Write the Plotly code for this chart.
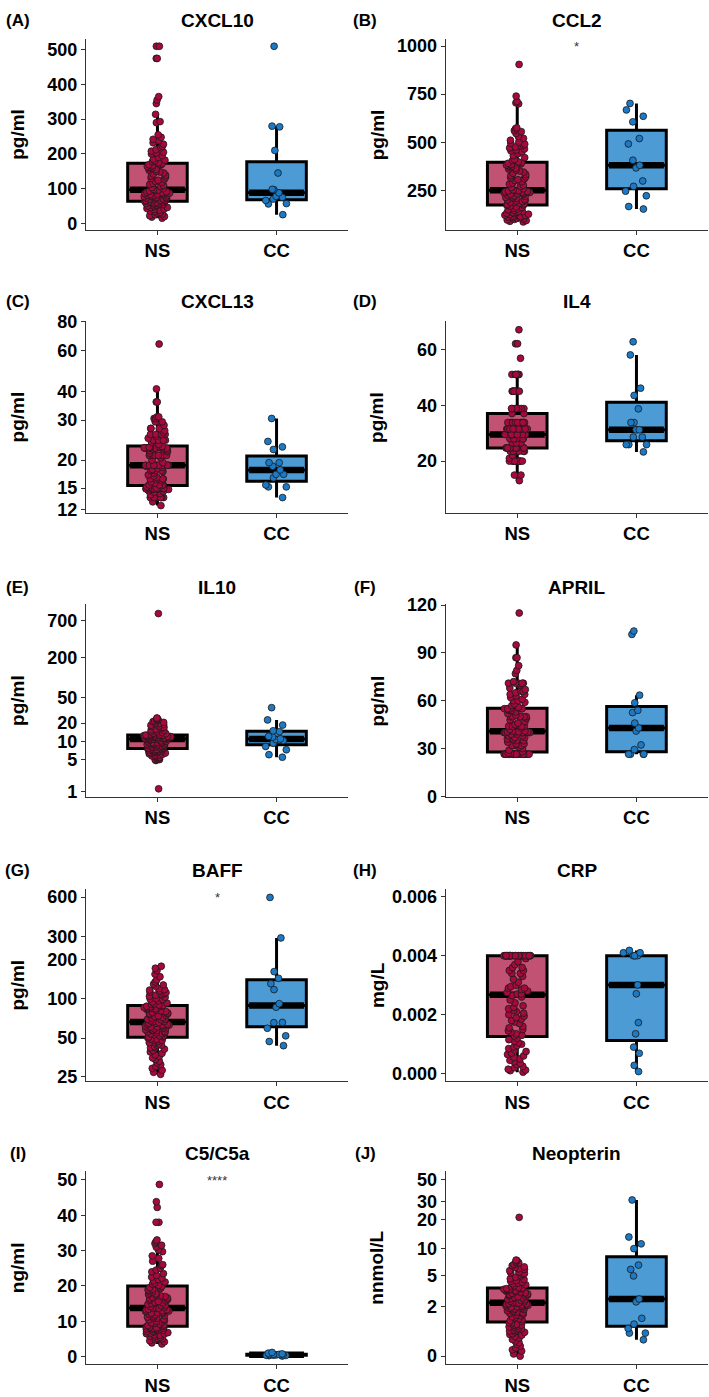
import numpy as np
import plotly.graph_objects as go

FONT = "Liberation Sans, Arial, sans-serif"
W, H = 709, 1397

groups = ["NS", "CC"]
markers = ["CXCL10", "CCL2", "CXCL13", "IL4", "IL10", "APRIL", "BAFF", "CRP", "C5/C5a", "Neopterin"]
letters = ["(A)", "(B)", "(C)", "(D)", "(E)", "(F)", "(G)", "(H)", "(I)", "(J)"]
units = ["pg/ml", "pg/ml", "pg/ml", "pg/ml", "pg/ml", "pg/ml", "pg/ml", "mg/L", "ng/ml", "nnmol/L"]
log_scale = [False, False, True, False, True, False, True, False, False, True]

# ---- values ----
cxcl10_ns = [15, 18, 20, 22, 25, 27, 30, 32, 34, 36, 38, 40, 41, 43, 45, 46, 48, 50, 51, 52,
             54, 55, 56, 57, 58, 59, 60, 61, 62, 63, 64, 65, 66, 67, 68, 69, 70, 71, 72, 73,
             74, 75, 76, 77, 78, 79, 80, 81, 82, 83, 84, 85, 86, 87, 88, 90, 91, 93, 94, 96,
             98, 100, 103, 106, 109, 112, 115, 118, 121, 124, 127, 130, 133, 136, 139, 142, 145, 148, 150, 153,
             155, 158, 160, 162, 164, 166, 168, 169, 170, 172, 175, 178, 180, 182, 185, 190, 195, 200, 203, 205,
             208, 212, 218, 222, 228, 232, 238, 242, 248, 255, 290, 293, 314, 345, 355, 365, 475, 475, 510, 510]
cxcl10_cc = [25, 56, 57, 66, 70, 75, 78, 88, 97, 98, 145, 210, 278, 280, 510]

ccl2_ns = [85, 88, 92, 95, 98, 100, 103, 106, 108, 110, 113, 115, 118, 120, 123, 125, 128, 130, 133, 135,
           138, 140, 145, 148, 152, 155, 160, 163, 167, 171, 173, 176, 179, 182, 185, 188, 191, 194, 197, 200,
           203, 206, 209, 212, 215, 218, 221, 224, 227, 230, 232, 234, 236, 238, 240, 242, 244, 246, 247, 248,
           252, 258, 264, 270, 276, 282, 288, 294, 300, 305, 310, 315, 320, 326, 332, 338, 344, 350, 355, 360,
           365, 370, 374, 378, 381, 384, 387, 390, 392, 394, 398, 405, 410, 420, 430, 440, 450, 455, 460, 465,
           470, 475, 480, 485, 490, 495, 500, 510, 520, 530, 545, 555, 560, 570, 575, 700, 705, 712, 740, 905]
ccl2_cc = [152, 165, 221, 245, 270, 298, 366, 380, 406, 491, 519, 606, 635, 668, 702]

cxcl13_ns = [12.5, 13.0, 13.6, 13.6, 13.6, 13.6, 13.6, 13.6, 13.6, 14.0,
             14.2, 14.4, 14.5, 14.6, 14.8, 14.8, 14.9, 14.9, 14.9, 14.9,
             14.9, 14.9, 14.9, 14.9, 14.9, 14.9, 15.0, 15.0, 15.1, 15.2,
             15.5, 15.5, 15.5, 15.5, 15.8, 16.0, 16.2, 16.5, 16.5, 16.5,
             16.5, 16.8, 17.0, 17.2, 17.5, 17.8, 18.0, 18.0, 18.0, 18.2,
             18.4, 18.6, 18.8, 19.0, 19.0, 19.0, 19.0, 19.0, 19.0, 19.0,
             19.0, 19.5, 20.0, 20.5, 21.0, 21.0, 21.0, 21.0, 21.0, 21.0,
             21.0, 21.5, 21.8, 22.0, 22.2, 22.4, 22.6, 22.6, 22.6, 22.6,
             22.6, 22.6, 22.6, 22.7, 22.7, 22.8, 22.8, 22.8, 22.9, 23.0,
             23.5, 24.0, 24.5, 24.5, 24.5, 24.5, 24.5, 25.0, 25.5, 26.0,
             26.0, 26.0, 26.0, 26.5, 27.0, 27.6, 27.6, 27.6, 28.5, 29.5,
             29.5, 29.5, 30.5, 30.5, 31.0, 31.0, 36.0, 36.0, 41.0, 64.0]
cxcl13_cc = [13.6, 15.2, 15.2, 15.5, 16.7, 17.3, 17.3, 18.1, 18.8, 19.5, 19.5, 22.3, 22.9, 24.2, 30.5]

il4_ns = [13, 15, 15, 20, 20, 20, 20, 20, 20, 20, 20, 20, 20, 21, 22,
          23.5, 23.5, 23.5, 23.5, 23.5, 23.5, 23.5, 23.5,
          24.7, 24.7, 24.7, 24.7, 24.7, 24.7, 24.7, 24.7, 24.7, 24.7,
          26.5, 26.5, 26.5, 26.5, 26.5, 28, 28, 28, 28, 28,
          29.5, 29.5, 29.5, 29.5, 29.5, 29.5, 29.5, 29.5,
          31.5, 31.5, 31.5, 31.5, 31.5, 31.5, 31.5, 31.5, 31.5, 31.5,
          33.8, 33.8, 33.8, 33.8, 33.8, 33.8, 33.8, 33.8, 33.8, 33.8, 37, 37,
          38.8, 38.8, 38.8, 38.8, 38.8, 38.8, 38.8,
          45, 45, 45, 45, 45, 45, 45, 51, 51, 51, 51, 51, 51, 56.8, 62, 62, 67]
il4_cc = [23.3, 25.9, 25.9, 25.9, 28.6, 28.6, 31.2, 31.2, 33.8, 33.8, 38.7, 43.5, 46.1, 58.0, 62.7]

il10_ns = [1.2, 4.8, 5.0, 5.0, 5.2, 5.3, 5.5, 5.5, 5.7, 5.8, 6.0, 6.0, 6.2, 6.3, 6.5, 6.5, 6.6, 6.7, 6.8, 6.9,
           7.0, 7.0, 7.1, 7.2, 7.3, 7.4, 7.5, 7.5, 7.6, 7.7, 7.8, 7.9, 8.0, 8.1, 8.2, 8.3, 8.4, 8.5, 8.6, 8.7,
           8.8, 8.9, 9.0, 9.1, 9.2, 9.3, 9.4, 9.5, 9.6, 9.7, 9.8, 9.9, 10.0, 10.2, 10.4, 10.6, 10.8, 10.9, 11.0, 11.2,
           11.2, 11.3, 11.3, 11.4, 11.5, 11.5, 11.6, 11.7, 11.8, 11.8, 11.9, 12.0, 12.0, 12.1, 12.2, 12.2, 12.3, 12.4, 12.4, 12.5,
           12.5, 12.6, 12.6, 12.7, 12.7, 12.8, 12.8, 12.9, 12.9, 12.9, 13.0, 13.2, 13.4, 13.6, 13.8, 14.0, 14.3, 14.6, 15.0, 15.3,
           15.6, 16.0, 16.4, 16.8, 17.2, 17.6, 18.0, 18.5, 19.0, 19.5, 20.0, 20.5, 21.0, 21.5, 22.0, 22.5, 23.0, 23.5, 24.0, 900]
il10_cc = [5.5, 6.1, 7.4, 8.4, 9.5, 10.5, 10.9, 11.2, 12.0, 12.3, 14.6, 15.1, 18.6, 22.4, 34.6]

april_ns = [26.5, 26.5, 26.5, 26.5, 26.5, 26.5, 26.5, 26.5, 26.5, 26.5, 26.5, 26.5, 26.5, 26.5, 26.5,
            26.5, 26.5, 26.5, 26.5, 26.5, 26.5, 26.5, 26.5, 26.5, 26.5, 26.5, 26.5, 26.5, 27, 27.2,
            28, 29, 30, 31, 32, 32, 32, 33, 33, 34, 35, 35, 36, 36, 36, 37, 37, 38, 38, 39,
            39, 40, 40, 40, 40, 40, 40.5, 40.5, 40.5, 40.6, 41, 41, 42, 43, 44, 44, 44, 44, 45, 46,
            47, 48, 49, 50, 50, 50, 50, 50, 51, 52, 53, 54, 54, 55, 55, 55, 55, 55, 55, 55,
            56, 57, 58, 59, 60, 60, 61, 62, 63, 64, 64, 65, 66, 66, 67, 68, 70, 71, 71, 71,
            71, 71, 72, 77, 79, 82, 87, 87, 95, 115]
april_cc = [26.5, 26.5, 26.5, 26.5, 29.4, 32.3, 41.0, 42.9, 46.0, 52.6, 54.0, 58.7, 63.5, 101.6, 103.7]

baff_ns = [26, 27, 28, 29, 30, 31, 32, 33, 34, 35, 36, 37, 38, 39, 40, 41, 42, 42, 43, 44,
           44, 45, 46, 46, 47, 48, 48, 49, 49, 50, 51, 51, 52, 52, 53, 54, 54, 55, 55, 56,
           56, 57, 57, 58, 58, 59, 59, 60, 60, 61, 61, 62, 62, 63, 63, 64, 64, 65, 65, 66,
           67, 67, 68, 69, 70, 70, 71, 72, 73, 74, 75, 76, 77, 77, 78, 79, 80, 81, 82, 83,
           84, 84, 85, 86, 86, 87, 88, 88, 89, 89, 90, 91, 92, 93, 95, 97, 99, 100, 101, 103,
           105, 107, 108, 110, 112, 113, 115, 117, 118, 120, 125, 128, 130, 135, 140, 148, 155, 165, 172, 178]
baff_cc = [43.6, 47, 52, 59.5, 65.7, 66, 86.4, 92, 118, 131, 144, 162, 293, 596]

crp_ns = [0.00005, 0.0001, 0.00012, 0.00015, 0.0002, 0.00025, 0.0003, 0.00035, 0.0004, 0.00045,
          0.0005, 0.00055, 0.0006, 0.00065, 0.0007, 0.00075, 0.0008, 0.00085, 0.0009, 0.00095,
          0.001, 0.00105, 0.0011, 0.00115, 0.0012, 0.00128, 0.0013, 0.00135, 0.0014, 0.00145,
          0.0015, 0.00155, 0.0016, 0.0017, 0.00175, 0.0018, 0.00185, 0.0019, 0.00195, 0.002,
          0.00205, 0.0021, 0.00215, 0.0022, 0.00225, 0.0023, 0.0024, 0.0025, 0.0026, 0.00265,
          0.0027, 0.0027, 0.00275, 0.0028, 0.00285, 0.0029, 0.0029, 0.00295, 0.003, 0.0031,
          0.0032, 0.0033, 0.0034, 0.0034, 0.0035, 0.0035, 0.0036, 0.0036, 0.0037, 0.0038,
          0.0039, 0.004, 0.004, 0.004, 0.004, 0.004, 0.004, 0.004, 0.004, 0.004,
          0.004, 0.004, 0.004, 0.004, 0.004, 0.004, 0.004, 0.004, 0.004, 0.004,
          0.004, 0.004, 0.004, 0.004, 0.004, 0.004, 0.004, 0.004, 0.004, 0.004]
crp_cc = [0.00007, 0.00028, 0.00069, 0.0009, 0.00135, 0.00173, 0.00271, 0.00301,
          0.004, 0.004, 0.004, 0.004, 0.0041, 0.0041, 0.00418]

c5_ns = [3.6, 3.9, 4.2, 4.5, 4.8, 5.0, 5.2, 5.4, 5.6, 5.8, 6.0, 6.2, 6.4, 6.5, 6.7, 6.8, 7.0, 7.1, 7.2, 7.4,
         7.5, 7.6, 7.7, 7.8, 7.9, 8.0, 8.1, 8.2, 8.3, 8.5, 8.6, 8.8, 9.0, 9.2, 9.4, 9.6, 9.8, 10.0, 10.2, 10.4,
         10.6, 10.8, 11.0, 11.2, 11.4, 11.6, 11.8, 12.0, 12.2, 12.3, 12.5, 12.6, 12.8, 12.9, 13.0, 13.2, 13.3, 13.4, 13.6, 13.7,
         13.8, 14.0, 14.2, 14.4, 14.6, 14.8, 15.0, 15.2, 15.4, 15.6, 15.8, 16.0, 16.2, 16.4, 16.6, 16.8, 17.0, 17.2, 17.4, 17.6,
         17.8, 18.0, 18.3, 18.6, 18.9, 19.1, 19.3, 19.5, 19.7, 19.9, 20.2, 20.5, 20.8, 21.1, 21.5, 21.8, 22.2, 22.5, 23.0, 23.5,
         24.0, 24.5, 25.0, 25.8, 26.0, 27.0, 27.8, 28.5, 29.7, 30.2, 31.0, 31.5, 32.0, 32.5, 33.0, 38.0, 38.0, 42.2, 43.8, 48.7]
c5_cc = [0.2, 0.3, 0.35, 0.4, 0.45, 0.5, 0.5, 0.55, 0.6, 0.6, 0.65, 0.7, 0.8, 1.0, 1.2]

neo_ns = [0.0, 0.05, 0.12, 0.15, 0.2, 0.25, 0.3, 0.35, 0.4, 0.45, 0.5, 0.55, 0.6, 0.62, 0.65, 0.7, 0.72, 0.75, 0.78, 0.8,
          0.83, 0.86, 0.9, 0.92, 0.95, 0.98, 1.0, 1.03, 1.06, 1.1, 1.15, 1.2, 1.25, 1.3, 1.35, 1.4, 1.45, 1.5, 1.55, 1.6,
          1.62, 1.65, 1.7, 1.75, 1.8, 1.83, 1.86, 1.9, 1.93, 1.96, 2.0, 2.03, 2.06, 2.1, 2.13, 2.16, 2.2, 2.22, 2.25, 2.27,
          2.3, 2.35, 2.4, 2.45, 2.5, 2.55, 2.6, 2.65, 2.7, 2.75, 2.8, 2.85, 2.9, 2.95, 3.0, 3.05, 3.1, 3.15, 3.2, 3.25,
          3.3, 3.35, 3.38, 3.4, 3.43, 3.46, 3.48, 3.5, 3.52, 3.55, 3.6, 3.7, 3.8, 3.9, 4.0, 4.1, 4.2, 4.3, 4.4, 4.5,
          4.6, 4.8, 5.0, 5.2, 5.3, 5.4, 5.5, 5.7, 5.9, 6.0, 6.2, 6.3, 6.5, 6.7, 6.9, 7.0, 7.2, 7.4, 7.5, 21.0]
neo_cc = [0.44, 0.67, 0.67, 0.85, 1.04, 1.32, 2.35, 2.57, 4.97, 5.9, 6.6, 9.96, 11.2, 13.2, 31.4]

ns_values = [cxcl10_ns, ccl2_ns, cxcl13_ns, il4_ns, il10_ns, april_ns, baff_ns, crp_ns, c5_ns, neo_ns]
cc_values = [cxcl10_cc, ccl2_cc, cxcl13_cc, il4_cc, il10_cc, april_cc, baff_cc, crp_cc, c5_cc, neo_cc]

tick_values = [
    [0, 100, 200, 300, 400, 500],
    [250, 500, 750, 1000],
    [12, 15, 20, 30, 40, 60, 80],
    [20, 40, 60],
    [1, 5, 10, 20, 50, 200, 700],
    [0, 30, 60, 90, 120],
    [25, 50, 100, 200, 300, 600],
    [0, 0.002, 0.004, 0.006],
    [0, 10, 20, 30, 40, 50],
    [0, 2, 5, 10, 20, 30, 50],
]
tick_labels = [
    ["0", "100", "200", "300", "400", "500"],
    ["250", "500", "750", "1000"],
    ["12", "15", "20", "30", "40", "60", "80"],
    ["20", "40", "60"],
    ["1", "5", "10", "20", "50", "200", "700"],
    ["0", "30", "60", "90", "120"],
    ["25", "50", "100", "200", "300", "600"],
    ["0.000", "0.002", "0.004", "0.006"],
    ["0", "10", "20", "30", "40", "50"],
    ["0", "2", "5", "10", "20", "30", "50"],
]

# significance marks: panel index -> (label, value)
signif = {1: ("*", 1000), 6: ("*", 600), 8: ("****", 49.7)}

# ---- layout (pixels) ----
col_px = [(86, 348), (445.7, 708)]
row_px = [(30, 224), (316, 511), (603, 799), (892, 1087), (1178, 1374)]
title_y = [12, 296.7, 586.7, 873, 1160]
label_x = [17.5, 365]
ytitle_x = [17.5, 377]
y_ranges = [
    (-19.0, 532.1), (43.0, 1039.5),
    (1.0989, 1.9114), (1.41, 70.24),
    (0.2179, 3.1002), (-0.43, 120.78),
    (1.3793, 2.8411), (-0.000258, 0.006268),
    (-2.15, 52.5), (-0.0792, 1.791),
]

box_fill = ["#C25273", "#4C9BD5"]
dot_fill = ["#A6093D", "#1C79C5"]


def tf(v, is_log):
    v = np.asarray(v, dtype=float)
    return np.log10(v + 1) if is_log else v


def box_stats(v):
    q1, med, q3 = np.percentile(v, [25, 50, 75])
    iqr = q3 - q1
    lo = v[v >= q1 - 1.5 * iqr].min()
    hi = v[v <= q3 + 1.5 * iqr].max()
    return q1, med, q3, lo, hi


def px_x(p):
    return p / W


def px_y(p):
    return 1 - p / H


fig = go.Figure()
annotations = []
axis_common = dict(showline=True, linecolor="#333333", linewidth=1.3, ticks="outside", ticklen=4,
                   tickwidth=1.3, tickcolor="#333333", showgrid=False, zeroline=False, fixedrange=True)

for i in range(10):
    r, c = divmod(i, 2)
    sfx = "" if i == 0 else str(i + 1)
    xa, ya = "x" + sfx, "y" + sfx
    is_log = log_scale[i]
    data = [tf(ns_values[i], is_log), tf(cc_values[i], is_log)]

    # box + whiskers
    for g in range(2):
        q1, med, q3, lo, hi = box_stats(data[g])
        fig.add_trace(go.Box(x=[g], q1=[q1], median=[med], q3=[q3], lowerfence=[lo], upperfence=[hi],
                             width=0.5, fillcolor=box_fill[g], line=dict(color="black", width=3),
                             whiskerwidth=0, boxpoints=False, orientation="v",
                             xaxis=xa, yaxis=ya, showlegend=False, hoverinfo="skip"))
    # thick median band
    for g in range(2):
        med = np.median(data[g])
        fig.add_trace(go.Box(x=[g], q1=[med], median=[med], q3=[med], lowerfence=[med], upperfence=[med],
                             width=0.46, fillcolor="black", line=dict(color="black", width=6.5),
                             whiskerwidth=0, boxpoints=False, orientation="v",
                             xaxis=xa, yaxis=ya, showlegend=False, hoverinfo="skip"))
    # jittered points
    for g in range(2):
        fig.add_trace(go.Box(y=data[g], x0=g, width=0.5, boxpoints="all", jitter=0.45, pointpos=0,
                             fillcolor="rgba(0,0,0,0)", line=dict(color="rgba(0,0,0,0)", width=0),
                             marker=dict(color=dot_fill[g], size=6.8, line=dict(color="#1a1a1a", width=0.8)),
                             xaxis=xa, yaxis=ya, showlegend=False, hoverinfo="skip"))

    x0, x1 = col_px[c]
    y0, y1 = row_px[r]
    fig.layout["xaxis" + sfx] = dict(
        domain=[px_x(x0), px_x(x1)], anchor=ya, range=[-0.6, 1.6], tickvals=[0, 1], ticktext=groups,
        tickfont=dict(family=FONT, size=18.5, color="black", weight="bold"), **axis_common)
    fig.layout["yaxis" + sfx] = dict(
        domain=[px_y(y1), px_y(y0)], anchor=xa, range=list(y_ranges[i]),
        tickvals=list(tf(tick_values[i], is_log)), ticktext=tick_labels[i],
        tickfont=dict(family=FONT, size=18, color="black", weight="bold"), **axis_common)

    annotations.append(dict(text=markers[i], x=px_x((x0 + x1) / 2), y=px_y(title_y[r]), xref="paper", yref="paper",
                            showarrow=False, xanchor="center", yanchor="middle",
                            font=dict(family=FONT, size=19, color="black", weight="bold")))
    annotations.append(dict(text=letters[i], x=px_x(label_x[c]), y=px_y(title_y[r]), xref="paper", yref="paper",
                            showarrow=False, xanchor="center", yanchor="middle",
                            font=dict(family=FONT, size=17, color="black", weight="bold")))
    annotations.append(dict(text=units[i], x=px_x(ytitle_x[c]), y=px_y((y0 + y1) / 2), xref="paper", yref="paper",
                            showarrow=False, xanchor="center", yanchor="middle", textangle=-90,
                            font=dict(family=FONT, size=19, color="black", weight="bold")))
    if i in signif:
        lab, val = signif[i]
        annotations.append(dict(text=lab, x=0.5, y=float(tf([val], is_log)[0]), xref=xa, yref=ya,
                                showarrow=False, xanchor="center", yanchor="middle",
                                font=dict(family=FONT, size=13, color="#333333")))

fig.update_layout(width=W, height=H, margin=dict(l=0, r=0, t=0, b=0), boxmode="overlay",
                  plot_bgcolor="white", paper_bgcolor="white", annotations=annotations,
                  font=dict(family=FONT))

# pin the chart to the page corner so the page is exactly the figure, no scrollbars
pin = ("var d=document.getElementById('{plot_id}');"
       "d.style.position='absolute';d.style.left='0px';d.style.top='0px';"
       "document.body.style.margin='0px';document.body.style.overflow='hidden';"
       "document.documentElement.style.overflow='hidden';")
fig.write_html("out.html", post_script=pin, config={"displayModeBar": False})
